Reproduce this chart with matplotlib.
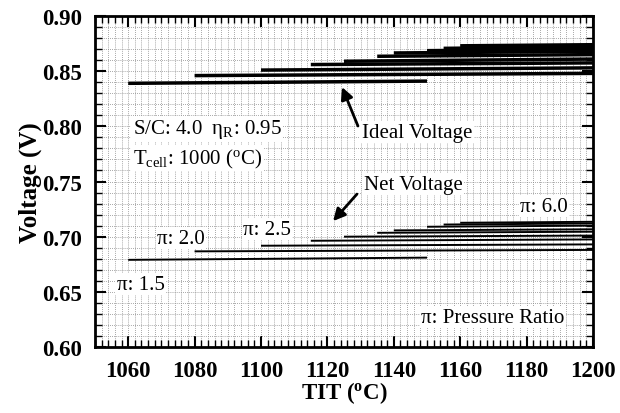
import matplotlib

matplotlib.use('Agg')
import matplotlib.pyplot as plt
from matplotlib.ticker import MultipleLocator

plt.rcParams['font.family'] = ['Liberation Serif', 'DejaVu Serif']
plt.rcParams['mathtext.default'] = 'regular'

# pressure ratios and the TIT range each one covers
pressure_ratio = [1.5, 2.0, 2.5, 3.0, 3.5, 4.0, 4.5, 5.0, 5.5, 6.0]
tit_start = [1060, 1080, 1100, 1115, 1125, 1135, 1140, 1150, 1155, 1160]
tit_end = [1150, 1200, 1200, 1200, 1200, 1200, 1200, 1200, 1200, 1200]

# ideal (Nernst) voltage at the start and end TIT
ideal_start = [0.839, 0.846, 0.851, 0.856, 0.859, 0.8635, 0.8665, 0.8686, 0.8707, 0.873]
ideal_end = [0.841, 0.848, 0.853, 0.8575, 0.861, 0.865, 0.868, 0.870, 0.872, 0.874]

# net cell voltage at the start and end TIT
net_start = [0.679, 0.6867, 0.6918, 0.6963, 0.700, 0.7035, 0.7057, 0.709, 0.711, 0.7126]
net_end = [0.681, 0.688, 0.693, 0.6975, 0.701, 0.7045, 0.7067, 0.710, 0.712, 0.7135]

fig = plt.figure(figsize=(6.2, 4.14), dpi=100)
ax = fig.add_axes([0.1532, 0.1594, 0.8033, 0.7995])

for i in range(len(pressure_ratio)):
    ax.plot([tit_start[i], tit_end[i]], [ideal_start[i], ideal_end[i]],
            color='black', lw=2.5, solid_capstyle='butt')
    ax.plot([tit_start[i], tit_end[i]], [net_start[i], net_end[i]],
            color='black', lw=1.4, solid_capstyle='butt')

ax.set_xlim(1050, 1200)
ax.set_ylim(0.60, 0.90)
ax.xaxis.set_minor_locator(MultipleLocator(2))
ax.yaxis.set_major_locator(MultipleLocator(0.05))
ax.yaxis.set_minor_locator(MultipleLocator(0.01))
ax.set_xticks(range(1060, 1201, 20))
ax.yaxis.set_major_formatter(matplotlib.ticker.FormatStrFormatter('%.2f'))

ax.grid(which='both', color='#8a8a8a', lw=0.6, ls=(0, (1, 1.5)))
ax.set_axisbelow(True)

ax.tick_params(which='both', direction='in', top=True, right=True)
ax.tick_params(which='major', length=8, width=1.5, labelsize=16.5)
ax.tick_params(axis='x', which='major', pad=9)
ax.tick_params(axis='y', which='major', pad=9)
ax.tick_params(which='minor', length=5, width=1)
for lab in ax.get_xticklabels() + ax.get_yticklabels():
    lab.set_fontweight('bold')
for sp in ax.spines.values():
    sp.set_linewidth(2)

ax.set_xlabel('TIT ($^{o}$C)', fontsize=16.5, fontweight='bold', labelpad=-1)
ax.set_ylabel('Voltage (V)', fontsize=18, fontweight='bold', labelpad=0)

box = dict(facecolor='white', edgecolor='none', pad=1)
fs = 15
ax.text(1061.4, 0.7976, 'S/C: 4.0  $\\eta_R$: 0.95', fontsize=fs, va='center', bbox=box)
ax.text(1061.4, 0.7713, 'T$_{cell}$: 1000 ($^{o}$C)', fontsize=fs, va='center', bbox=box)
ax.text(1178, 0.7278, 'π: 6.0', fontsize=fs, va='center', bbox=box)
ax.text(1094.6, 0.7069, 'π: 2.5', fontsize=fs, va='center', bbox=box)
ax.text(1068.7, 0.6987, 'π: 2.0', fontsize=fs, va='center', bbox=box)
ax.text(1056.6, 0.657, 'π: 1.5', fontsize=fs, va='center', bbox=box)
ax.text(1148.2, 0.627, 'π: Pressure Ratio', fontsize=fs, va='center', bbox=box)

arrow = dict(arrowstyle='-|>', color='black', lw=2, mutation_scale=18, shrinkA=0, shrinkB=0)
ax.text(1130.4, 0.7948, 'Ideal Voltage', fontsize=fs, va='center', bbox=box)
ax.annotate('', xy=(1124.4, 0.8356), xytext=(1129.2, 0.8003), arrowprops=arrow)
ax.text(1131, 0.7477, 'Net Voltage', fontsize=fs, va='center', bbox=box)
ax.annotate('', xy=(1121.7, 0.7141), xytext=(1128.9, 0.7386), arrowprops=arrow)

fig.savefig('out.png', dpi=100)
